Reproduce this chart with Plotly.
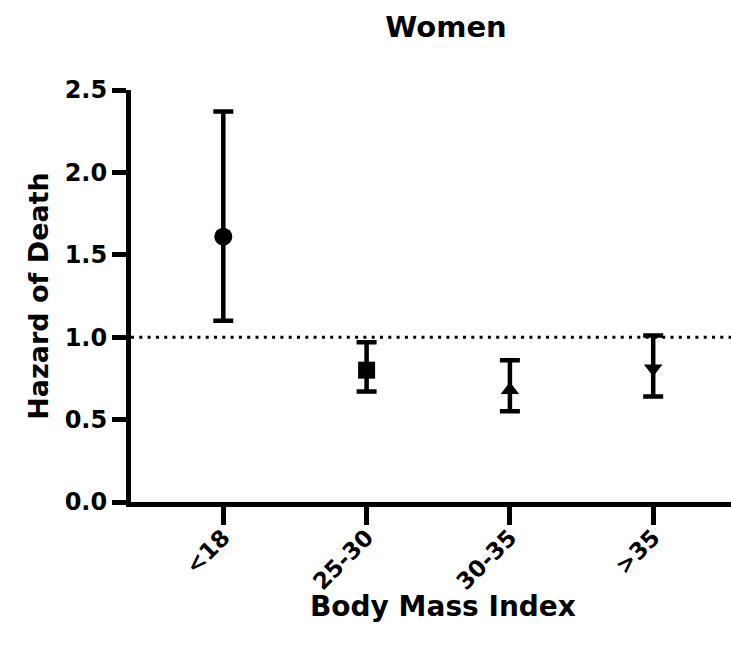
import plotly.graph_objects as go

# Hazard ratios of death by BMI group, women
categories = ["<18", "25-30", "30-35", ">35"]
hazard = [1.61, 0.80, 0.68, 0.81]
ci_upper = [2.37, 0.97, 0.86, 1.01]
ci_lower = [1.10, 0.67, 0.55, 0.64]
symbols = ["circle", "square", "triangle-up", "triangle-down"]
sizes = [18, 17, 16, 16]
y_ticks = [0.0, 0.5, 1.0, 1.5, 2.0, 2.5]
reference_level = 1.0

err_plus = [u - h for u, h in zip(ci_upper, hazard)]
err_minus = [h - l for h, l in zip(hazard, ci_lower)]

FONT = "DejaVu Sans"
W, H = 731, 653
L, R, T, B = 131, 0, 90, 151

fig = go.Figure()

fig.add_trace(go.Scatter(
    x=categories,
    y=hazard,
    mode="markers",
    opacity=1,
    marker=dict(symbol=symbols, size=sizes, color="black", opacity=1,
                line=dict(width=0)),
    error_y=dict(
        type="data",
        symmetric=False,
        array=err_plus,
        arrayminus=err_minus,
        color="black",
        thickness=4.5,
        width=10,
    ),
    showlegend=False,
    cliponaxis=False,
))

# dotted reference line at hazard = 1
fig.add_shape(
    type="line", xref="paper", yref="y",
    x0=0, x1=1, y0=reference_level, y1=reference_level,
    line=dict(color="black", width=3, dash="3px,5.3px"),
    layer="below",
)

plot_w = W - L - R
plot_h = H - T - B

fig.update_layout(
    width=W,
    height=H,
    margin=dict(l=L, r=R, t=T, b=B),
    paper_bgcolor="white",
    plot_bgcolor="white",
    font=dict(family=FONT, color="black"),
    title=dict(
        text="<b>Women</b>",
        font=dict(family=FONT, size=29, color="black"),
        x=446 / W, xref="container", xanchor="center",
        y=1 - 27 / H, yref="container", yanchor="middle",
    ),
    annotations=[dict(
        text="<b>Body Mass Index</b>",
        xref="paper", yref="paper",
        x=(443 - L) / plot_w, y=-(606 - (T + plot_h)) / plot_h,
        xanchor="center", yanchor="middle",
        showarrow=False,
        font=dict(family=FONT, size=28, color="black"),
    )],
)

fig.update_xaxes(
    type="category",
    categoryorder="array",
    categoryarray=categories,
    range=[(L - 223.3) / 143.3, (W - R - 223.3) / 143.3],
    showline=True, linewidth=5, linecolor="black",
    ticks="outside", ticklen=18, tickwidth=5, tickcolor="black",
    tickangle=-45,
    ticklabelstandoff=-10,
    tickfont=dict(family=FONT, size=23, color="black", weight="bold"),
    showgrid=False, zeroline=False,
)

fig.update_yaxes(
    range=[0, 2.5],
    tickvals=y_ticks,
    tickformat=".1f",
    showline=True, linewidth=5, linecolor="black",
    ticks="outside", ticklen=14, tickwidth=5, tickcolor="black",
    tickfont=dict(family=FONT, size=24, color="black", weight="bold"),
    showgrid=False, zeroline=False,
    title=dict(text="<b>Hazard of Death</b>",
               font=dict(family=FONT, size=27, color="black"),
               standoff=10),
)

fig.write_html("out.html")
